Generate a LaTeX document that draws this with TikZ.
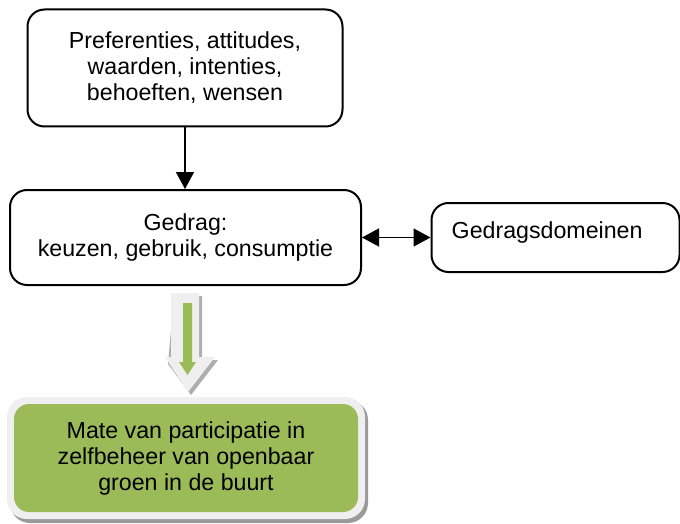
\documentclass[tikz,border=0pt]{standalone}
\usepackage{fontspec}
\setmainfont{Liberation Sans}
\usetikzlibrary{arrows.meta,shapes.geometric}
\definecolor{olivegreen}{HTML}{9BBB59}
\definecolor{framegrey}{HTML}{EFEFEF}
\definecolor{shadowgrey}{HTML}{9A9A9A}
\begin{document}
\begin{tikzpicture}[x=1pt,y=-1pt,
  txt/.style={font=\fontsize{23.2}{26}\selectfont, align=center},
  rbox/.style={draw=black, line width=2pt, rounded corners=17pt, inner sep=0pt},
  conn/.style={line width=1.5pt, -{Triangle[width=18pt,length=17pt]}},
  dconn/.style={line width=1.5pt, {Triangle[width=18pt,length=17pt]}-{Triangle[width=18pt,length=17pt]}}]
\useasboundingbox (0,0) rectangle (680,524);
% top box
\node[rbox, txt, minimum width=315pt, minimum height=117pt] (pref) at (185,68)
  {Preferenties, attitudes,\\waarden, intenties,\\behoeften, wensen};
% middle box
\node[rbox, txt, minimum width=351pt, minimum height=95pt] (gedrag) at (185.5,237.5)
  {Gedrag:\\keuzen, gebruik, consumptie};
% right box
\node[rbox, minimum width=248pt, minimum height=69pt] (dom) at (555.5,237.5) {};
\node[txt, anchor=west, inner sep=0pt] (domtxt) at ([xshift=21pt,yshift=5pt]dom.west) {Gedragsdomeinen};
% connectors
\draw[conn] (pref.south) -- (pref.south |- gedrag.north);
\draw[dconn] (gedrag.east) -- (dom.west);
% green block arrow: shadow, light body, green inner
\fill[shadowgrey, opacity=0.8] (174,296) -- (202,296) -- (202,360) -- (218,360) -- (191,395) -- (168,364) -- cycle;
\fill[framegrey] (171,293) -- (199,293) -- (199,357) -- (215,357) -- (188,392) -- (165,357) -- (171,357) -- cycle;
\fill[olivegreen] (183,303) -- (192,303) -- (192,362) -- (196,362) -- (187.5,375) -- (179,362) -- (183,362) -- cycle;
% bottom box
\fill[shadowgrey, rounded corners=20pt] (10,400) rectangle (368,523);
\fill[framegrey, rounded corners=20pt] (7,397) rectangle (365,519);
\node[fill=olivegreen, rounded corners=15pt, txt, minimum width=344pt, minimum height=108pt, inner sep=0pt] (mate) at (186,458)
  {Mate van participatie in\\zelfbeheer van openbaar\\groen in de buurt};
\end{tikzpicture}
\end{document}
